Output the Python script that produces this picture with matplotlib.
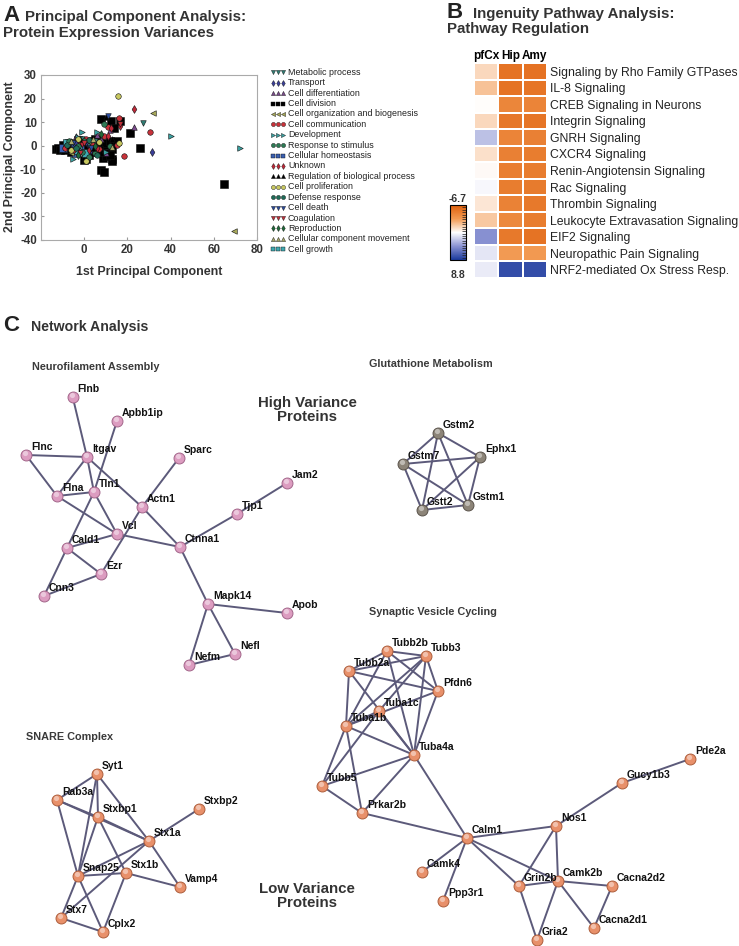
"""Proteomics overview: PCA scatter, IPA pathway heatmap and STRING-style networks."""

import matplotlib.pyplot as plt
import numpy as np
from matplotlib.colors import LinearSegmentedColormap
from matplotlib.colors import TwoSlopeNorm

plt.rcParams["font.family"] = ["Liberation Sans", "DejaVu Sans"]
plt.rcParams["axes.unicode_minus"] = False

W, H = 739, 946

# ---------------- Panel A: PCA of protein expression variances ----------------
pca_categories = [
    "Metabolic process", "Transport", "Cell differentiation", "Cell division",
    "Cell organization and biogenesis", "Cell communication", "Development",
    "Response to stimulus", "Cellular homeostasis", "Unknown",
    "Regulation of biological process", "Cell proliferation", "Defense response",
    "Cell death", "Coagulation", "Reproduction", "Cellular component movement",
    "Cell growth",
]
pca_markers = ["v", "d", "^", "s", "<", "o", ">", "o", "s", "d", "^", "o", "o", "v", "v", "d", "^", "s"]
pca_colors = [
    "#2f7d74", "#3b3f9a", "#7a4a8c", "#000000", "#a7a85a", "#c8323a", "#3aa0a0",
    "#2e7a55", "#3a5fb0", "#c02838", "#000000", "#c8c860", "#1f6b58", "#2a4a9a",
    "#c0303a", "#1f6a3a", "#a8a868", "#40a8b0",
]

pca_points = {
    "Metabolic process": [(27, 9.8), (-3, -1), (2, 0.5), (-8, -1), (5, 2), (-1, 3)],
    "Transport": [(31.5, -2.7), (-9, -0.5), (-4, 1), (3, -2), (-6, -1.5), (1, 1.5), (5, -0.5)],
    "Cell differentiation": [(22.9, 8.1), (12, 6.5), (-4, 4), (6, 4.5), (8, 3), (-2, -2), (10, -3)],
    "Cell division": [
        (8, 11.3), (12.5, 10.3), (16.7, 10.3), (13.6, 7.4), (21.3, 5.2), (26, -1),
        (8.5, -5.2), (13, -5.8), (13, -6.6), (7.7, -10.5), (9.1, -11), (64.9, -16.1),
        (-13, -1.5), (-12, -1), (-11, -2), (-10, -1.5), (-9, -2), (-8, -1), (-7, -0.5),
        (-6, -2.5), (-5, -1), (-4, 0), (-3, -2), (-2, 1), (-1, 0.5), (0, -1), (1, 0),
        (2, 1.5), (3, -0.5), (4, 2), (5, 3), (6, 0), (7, 1), (8, -1), (9, 0.5),
        (10, 1), (11, -3), (12, 2), (13, -1.5), (14, 1.5), (15, 2), (-7, 1),
        (-3, 2.5), (0, -6), (1, -5.5), (4, -2.5), (7, -2), (10, -4.5), (2, -4),
        (-10, 0.5), (6, 2.5), (12, -4),
    ],
    "Cell organization and biogenesis": [(32, 14), (69.2, -36), (-6, -3), (3, 1)],
    "Cell communication": [
        (16, 11.6), (30.4, 6), (18.5, -4.4), (11, 8), (-2, 2), (4, 0.5), (9, 4),
        (-5, -2), (7, -1.5), (15, 0.5), (1, 3), (-9, -1), (5, -3),
    ],
    "Development": [(40.2, 4.3), (72, -1), (-1, 6), (6, 6), (-5, -5.5), (10, -2.5), (-3, 3.5)],
    "Response to stimulus": [(-7, 2), (-1, -2.5), (2, -5), (9, 9), (5, -3), (-3, 0), (12, 0), (0, 2)],
    "Cellular homeostasis": [(-10, -1), (-6, 0), (-2, -1.5), (3, 1), (-4, -3)],
    "Unknown": [(23.2, 15.7), (16.4, 8.4), (12.5, 7.5), (-1, 1), (6, -1), (11, 4), (2, -2)],
    "Regulation of biological process": [(10, 12), (-7, 0), (-2, 3), (4, -1), (8, -3), (13, 3)],
    "Cell proliferation": [(15.6, 21.2), (16, 1), (1, -6.5), (-3, 3), (-6, -2), (7, 1.5)],
    "Defense response": [(-4, -1), (2, 2.5), (-8, 0.5), (6, -4)],
    "Cell death": [(-5, 1), (3, -1), (11, 12.5)],
    "Coagulation": [(16.8, 9), (0, 1), (-2, -3)],
    "Reproduction": [(-3, -4), (5, 0), (8, 5)],
    "Cellular component movement": [(-6, 2), (4, 3), (13, -0.5)],
    "Cell growth": [(-3, -2), (1, -3), (-8, 1)],
}

# ---------------- Panel B: IPA pathway regulation ----------------
pathways = [
    "Signaling by Rho Family GTPases", "IL-8 Signaling", "CREB Signaling in Neurons",
    "Integrin Signaling", "GNRH Signaling", "CXCR4 Signaling",
    "Renin-Angiotensin Signaling", "Rac Signaling", "Thrombin Signaling",
    "Leukocyte Extravasation Signaling", "EIF2 Signaling", "Neuropathic Pain Signaling",
    "NRF2-mediated Ox Stress Resp.",
]
regions = ["pfCx", "Hip", "Amy"]
pfcx_z = [-1.3, -2.0, -0.1, -1.3, 2.5, -1.0, -0.2, 0.3, -0.8, -1.8, 4.5, 1.0, 0.8]
hip_z = [-5.5, -5.5, -4.5, -5.3, -4.6, -4.8, -4.9, -5.0, -4.7, -4.3, -5.2, -3.3, 7.8]
amy_z = [-5.6, -5.4, -4.6, -5.4, -4.8, -5.0, -5.0, -5.1, -5.2, -5.0, -5.5, -3.4, 7.8]
z_min, z_max = -6.7, 8.8

# ---------------- Panel C: networks ----------------
neuro_edges = [
    ("Flnb", "Itgav"), ("Itgav", "Tln1"), ("Apbb1ip", "Tln1"), ("Flnc", "Itgav"),
    ("Flnc", "Flna"), ("Flna", "Itgav"), ("Flna", "Tln1"), ("Flna", "Vcl"),
    ("Tln1", "Vcl"), ("Tln1", "Cald1"), ("Itgav", "Actn1"), ("Sparc", "Actn1"),
    ("Actn1", "Ctnna1"), ("Actn1", "Ezr"), ("Vcl", "Cald1"), ("Vcl", "Ctnna1"),
    ("Cald1", "Cnn3"), ("Cald1", "Ezr"), ("Ezr", "Cnn3"), ("Ctnna1", "Tjp1"),
    ("Tjp1", "Jam2"), ("Ctnna1", "Mapk14"), ("Mapk14", "Apob"), ("Mapk14", "Nefm"),
    ("Mapk14", "Nefl"), ("Nefm", "Nefl"),
]
gluta_nodes = ["Gstm2", "Ephx1", "Gstm7", "Gstt2", "Gstm1"]
gluta_edges = [(a, b) for i, a in enumerate(gluta_nodes) for b in gluta_nodes[i + 1:]]
snare_edges = [
    ("Syt1", "Rab3a"), ("Syt1", "Stxbp1"), ("Syt1", "Stx1a"), ("Syt1", "Snap25"),
    ("Rab3a", "Stxbp1"), ("Rab3a", "Stx1a"), ("Rab3a", "Snap25"), ("Stxbp1", "Stx1a"),
    ("Stxbp1", "Snap25"), ("Stxbp1", "Stx1b"), ("Stx1a", "Stxbp2"), ("Stx1a", "Snap25"),
    ("Stx1a", "Vamp4"), ("Stx1a", "Stx7"), ("Snap25", "Stx1b"), ("Snap25", "Stx7"),
    ("Snap25", "Cplx2"), ("Stx1b", "Vamp4"), ("Stx1b", "Cplx2"), ("Stx7", "Cplx2"),
]
vesicle_edges = [
    ("Tubb2b", "Tubb3"), ("Tubb2b", "Tubb2a"), ("Tubb2b", "Pfdn6"), ("Tubb2b", "Tuba1b"),
    ("Tubb2b", "Tuba4a"), ("Tubb3", "Tubb2a"), ("Tubb3", "Pfdn6"), ("Tubb3", "Tuba1b"),
    ("Tubb3", "Tuba1c"), ("Tubb3", "Tuba4a"), ("Tubb2a", "Pfdn6"), ("Tubb2a", "Tuba1b"),
    ("Tubb2a", "Tuba4a"), ("Pfdn6", "Tuba1b"), ("Pfdn6", "Tuba4a"), ("Tuba1c", "Tuba1b"),
    ("Tuba1c", "Tuba4a"), ("Tuba1b", "Tuba4a"), ("Tuba1b", "Tubb5"), ("Tuba1b", "Prkar2b"),
    ("Tubb5", "Tuba4a"), ("Tubb5", "Tuba1c"), ("Tubb5", "Prkar2b"), ("Tuba4a", "Prkar2b"),
    ("Tuba4a", "Calm1"), ("Prkar2b", "Calm1"), ("Calm1", "Nos1"), ("Calm1", "Camk4"),
    ("Calm1", "Ppp3r1"), ("Calm1", "Grin2b"), ("Calm1", "Camk2b"), ("Nos1", "Gucy1b3"),
    ("Gucy1b3", "Pde2a"), ("Nos1", "Grin2b"), ("Nos1", "Camk2b"), ("Grin2b", "Camk2b"),
    ("Grin2b", "Gria2"), ("Camk2b", "Gria2"), ("Camk2b", "Cacna2d2"),
    ("Camk2b", "Cacna2d1"), ("Cacna2d2", "Cacna2d1"),
]

# node layout on the page (pixels)
neuro_pos = {
    "Flnb": (72.7, 397), "Apbb1ip": (117, 421), "Flnc": (26, 455), "Itgav": (87, 457),
    "Sparc": (179, 458), "Jam2": (287, 483), "Flna": (57, 496), "Tln1": (94, 492),
    "Actn1": (142, 507), "Tjp1": (237, 514), "Vcl": (117, 534), "Cald1": (67, 548),
    "Ctnna1": (180, 547), "Ezr": (101, 574), "Cnn3": (44, 596), "Mapk14": (208, 604),
    "Apob": (287, 613), "Nefm": (189, 665), "Nefl": (235, 654),
}
gluta_pos = {
    "Gstm2": (438, 433), "Ephx1": (480, 457), "Gstm7": (403, 464),
    "Gstt2": (422, 510), "Gstm1": (468, 505),
}
snare_pos = {
    "Syt1": (97, 774), "Rab3a": (57, 800), "Stxbp1": (98, 817), "Stxbp2": (199, 809),
    "Stx1a": (149, 841), "Snap25": (78, 876), "Stx1b": (126, 873), "Vamp4": (180, 887),
    "Stx7": (61, 918), "Cplx2": (103, 932),
}
vesicle_pos = {
    "Tubb2b": (387, 651), "Tubb3": (426, 656), "Tubb2a": (349, 671), "Pfdn6": (438, 691),
    "Tuba1c": (379, 711), "Tuba1b": (346, 726), "Tuba4a": (414, 755), "Tubb5": (322, 786),
    "Prkar2b": (362, 813), "Calm1": (467, 838), "Nos1": (556, 826), "Gucy1b3": (622, 783),
    "Pde2a": (690, 759), "Camk4": (422, 872), "Ppp3r1": (443, 901), "Grin2b": (519, 886),
    "Camk2b": (558, 881), "Cacna2d2": (612, 886), "Cacna2d1": (594, 928), "Gria2": (537, 940),
}

fig = plt.figure(figsize=(W / 100, H / 100), dpi=100)

# page overlay in pixel coordinates for text, legend and networks
ov = fig.add_axes([0, 0, 1, 1])
ov.set_xlim(0, W)
ov.set_ylim(H, 0)
ov.axis("off")


def px_axes(left, top, right, bottom):
    return fig.add_axes([left / W, 1 - bottom / H, (right - left) / W, (bottom - top) / H])


def panel_title(x, y, letter, line1, line2=None, gap=22):
    ov.text(x, y, letter, fontsize=16, fontweight="bold", va="baseline", color="#222")
    ov.text(x + gap, y, line1, fontsize=10.8, fontweight="bold", va="baseline", color="#333")
    if line2:
        ov.text(x, y + 15.5, line2, fontsize=10.8, fontweight="bold", va="baseline", color="#333")


# ---- Panel A ----
panel_title(3, 21, "A", "Principal Component Analysis:", "Protein Expression Variances")

axA = px_axes(41, 75, 257, 240)
for cat, marker, color in zip(pca_categories, pca_markers, pca_colors):
    pts = np.array(pca_points[cat])
    size = 26 if marker == "s" else 16
    axA.scatter(pts[:, 0], pts[:, 1], marker=marker, s=size, c=color,
                edgecolors="#111", linewidths=0.4, zorder=3 if marker != "s" else 2)
axA.set_xlim(-20, 80)
axA.set_ylim(-40, 30)
axA.set_xticks([0, 20, 40, 60, 80])
axA.set_yticks(range(-40, 31, 10))
axA.tick_params(length=2, direction="in", color="#999", labelsize=8.3, labelcolor="#333", pad=3)
for lab in axA.get_xticklabels() + axA.get_yticklabels():
    lab.set_fontweight("bold")
for sp in axA.spines.values():
    sp.set_color("#aaa")
    sp.set_linewidth(0.8)
ov.text(149, 272, "1st Principal Component", fontsize=8.9, fontweight="bold",
        ha="center", va="center", color="#333")
ov.text(10, 157, "2nd Principal Component", fontsize=8.9, fontweight="bold",
        ha="center", va="center", rotation=90, color="#333")

# legend, three markers per entry
for i, (cat, marker, color) in enumerate(zip(pca_categories, pca_markers, pca_colors)):
    y = 72.3 + i * 10.41
    ov.scatter([272.5, 277.5, 282.5], [y] * 3, marker=marker, s=9, c=color,
               edgecolors="#111", linewidths=0.3)
    ov.text(288, y, cat, fontsize=6.4, va="center", ha="left", color="#222")

# ---- Panel B ----
panel_title(447, 18, "B", "Ingenuity Pathway Analysis:", "Pathway Regulation", gap=26)

cmap = LinearSegmentedColormap.from_list(
    "ipa", ["#de5f0c", "#f29a52", "#ffffff", "#8a92d2", "#1a3a9c"])
norm = TwoSlopeNorm(vmin=z_min, vcenter=0, vmax=z_max)
values = np.array([pfcx_z, hip_z, amy_z]).T

axB = px_axes(474, 63, 547, 278)
mesh = axB.pcolormesh(values, cmap=cmap, norm=norm, edgecolors="white", linewidth=0.25)
axB.set_ylim(len(pathways), 0)
axB.set_xlim(0, len(regions))
axB.set_xticks(np.arange(len(regions)) + 0.5)
axB.set_xticklabels(regions, fontsize=8.5, fontweight="bold")
axB.xaxis.tick_top()
axB.set_yticks(np.arange(len(pathways)) + 0.5)
axB.set_yticklabels(pathways, fontsize=8.8, color="#222")
axB.yaxis.tick_right()
axB.tick_params(length=0, pad=2)
axB.tick_params(axis="x", pad=1)
for sp in axB.spines.values():
    sp.set_visible(False)

cax = px_axes(450, 205, 466, 260)
cb = fig.colorbar(mesh, cax=cax)
cax.invert_yaxis()
cb.set_ticks(norm.inverse(np.linspace(0, 1, 24)))
cax.tick_params(length=3, width=0.5, direction="in", right=True, left=False,
                labelright=False, color="#222")
cb.outline.set_linewidth(0.8)
ov.text(458, 199, "-6.7", fontsize=7.5, fontweight="bold", ha="center", va="center", color="#333")
ov.text(458, 275, "8.8", fontsize=7.5, fontweight="bold", ha="center", va="center", color="#333")

# ---- Panel C ----
ov.text(3, 331, "C", fontsize=16, fontweight="bold", va="baseline", color="#222")
ov.text(31, 331, "Network Analysis", fontsize=10.2, fontweight="bold", va="baseline", color="#333")

for label, x, y in [("Neurofilament Assembly", 32, 367), ("Glutathione Metabolism", 369, 364),
                    ("SNARE Complex", 26, 737), ("Synaptic Vesicle Cycling", 369, 612)]:
    ov.text(x, y, label, fontsize=7.8, fontweight="bold", va="center", color="#3a3a3a")

ov.text(307, 410, "High Variance\nProteins", fontsize=10.8, fontweight="bold",
        ha="center", va="center", color="#333", linespacing=1.05)
ov.text(307, 896, "Low Variance\nProteins", fontsize=10.8, fontweight="bold",
        ha="center", va="center", color="#333", linespacing=1.05)


def draw_network(pos, edges, face, rim):
    for a, b in edges:
        ov.plot([pos[a][0], pos[b][0]], [pos[a][1], pos[b][1]], color="#5c5a7a",
                lw=1.4, zorder=2, solid_capstyle="round")
    names = list(pos)
    xs = np.array([pos[n][0] for n in names])
    ys = np.array([pos[n][1] for n in names])
    ov.scatter(xs, ys, s=62, color=face, edgecolors=rim, linewidths=0.7, zorder=3)
    ov.scatter(xs - 1.2, ys - 1.8, s=14, color="white", alpha=0.45, linewidths=0, zorder=4)
    for n, x, y in zip(names, xs, ys):
        ov.text(x + 5, y - 8, n, fontsize=7.5, fontweight="bold", va="center",
                ha="left", color="#111", zorder=5)


draw_network(neuro_pos, neuro_edges, "#dc9cc0", "#a3668a")
draw_network(gluta_pos, gluta_edges, "#8c8478", "#5a534b")
draw_network(snare_pos, snare_edges, "#e8906a", "#ad5e3c")
draw_network(vesicle_pos, vesicle_edges, "#e8906a", "#ad5e3c")

fig.savefig("out.png", dpi=100)
